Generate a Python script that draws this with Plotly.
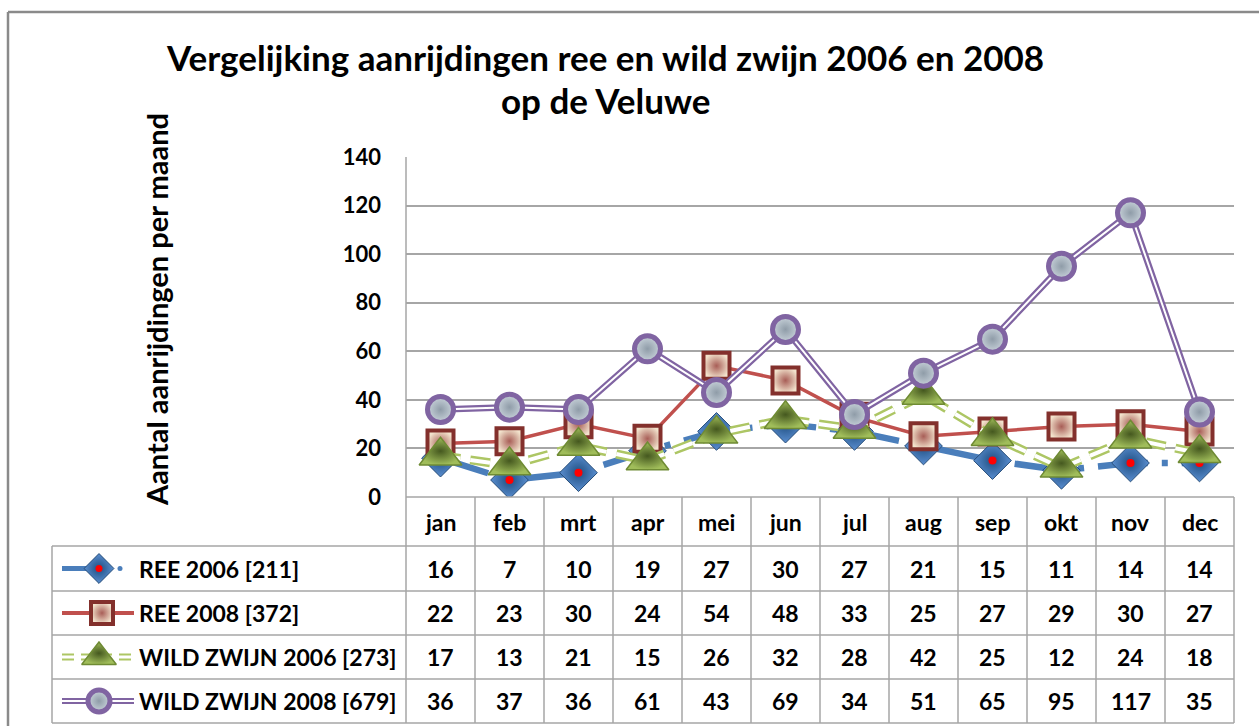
import plotly.graph_objects as go

# ---------------- data ----------------
months = ["jan", "feb", "mrt", "apr", "mei", "jun", "jul", "aug", "sep", "okt", "nov", "dec"]
ree_2006 = [16, 7, 10, 19, 27, 30, 27, 21, 15, 11, 14, 14]
ree_2008 = [22, 23, 30, 24, 54, 48, 33, 25, 27, 29, 30, 27]
wz_2006 = [17, 13, 21, 15, 26, 32, 28, 42, 25, 12, 24, 18]
wz_2008 = [36, 37, 36, 61, 43, 69, 34, 51, 65, 95, 117, 35]
series_names = ["REE 2006 [211]", "REE 2008 [372]", "WILD ZWIJN 2006 [273]", "WILD ZWIJN 2008 [679]"]
y_ticks = [0, 20, 40, 60, 80, 100, 120, 140]
title_lines = ["Vergelijking aanrijdingen ree en wild zwijn 2006 en 2008", "op de Veluwe"]
y_title = "Aantal aanrijdingen per maand"

# ---------------- layout geometry (pixels) ----------------
W, H = 1259, 726
PL, PR = 406, 1234          # plot left / right
PT, PB = 157, 497           # plot top (140) / bottom (0)
ROW_Y = [497, 546, 591, 635, 679, 723]
LEG_L = 52
FONT = "Lato"

def px(x):
    return x / W

def py(y):
    return 1 - y / H

xs = list(range(len(months)))
series = [ree_2006, ree_2008, wz_2006, wz_2008]

BLUE_M = dict(symbol="diamond", color="#5A8ED0", gradient=dict(type="radial", color="#1F4E80"),
              line=dict(color="#254C78", width=1))
RED_M = dict(symbol="square", color="#F2E2CC", gradient=dict(type="radial", color="#A85E57"),
             line=dict(color="#83302C", width=4))
GREEN_M = dict(symbol="triangle-up", color="#A0BD5A", gradient=dict(type="radial", color="#45581F"),
               line=dict(color="#6F8B34", width=1.5))
PURPLE_M = dict(symbol="circle", color="#C8D2DA", gradient=dict(type="radial", color="#8F9CA8"),
                line=dict(color="#8064A2", width=5))
GREEN_LINE = "#ADC664"

def skip(**kw):
    return go.Scatter(showlegend=False, hoverinfo="skip", **kw)

fig = go.Figure()

# --- REE 2006: blue dash-dot thick line, diamond with red centre
fig.add_trace(skip(x=xs, y=ree_2006, mode="lines", line=dict(color="#4A7EBB", width=6.5, dash="50px,14px,6px,14px")))
fig.add_trace(skip(x=xs, y=ree_2006, mode="markers", marker=dict(size=29, **BLUE_M)))
fig.add_trace(skip(x=xs, y=ree_2006, mode="markers", marker=dict(symbol="circle", size=8, color="#FF0000")))

# --- REE 2008: red solid line, bevelled square
fig.add_trace(skip(x=xs, y=ree_2008, mode="lines+markers", line=dict(color="#C0504D", width=3.5),
                   marker=dict(size=26, **RED_M)))

# --- WILD ZWIJN 2006: hollow green dashes, triangle
fig.add_trace(skip(x=xs, y=wz_2006, mode="lines", line=dict(color=GREEN_LINE, width=9, dash="20px,10px")))
fig.add_trace(skip(x=xs, y=wz_2006, mode="lines", line=dict(color="white", width=4, dash="20px,10px")))
fig.add_trace(skip(x=xs, y=wz_2006, mode="markers", marker=dict(size=37, **GREEN_M)))

# --- WILD ZWIJN 2008: purple double line, circle
fig.add_trace(skip(x=xs, y=wz_2008, mode="lines", line=dict(color="#8064A2", width=6.5)))
fig.add_trace(skip(x=xs, y=wz_2008, mode="lines", line=dict(color="white", width=2)))
fig.add_trace(skip(x=xs, y=wz_2008, mode="markers", marker=dict(size=26, **PURPLE_M)))

# ---------------- legend keys (pixel overlay axes) ----------------
row_centres = [(ROW_Y[i + 1] + ROW_Y[i + 2]) / 2 for i in range(4)]
kx0, kx1, kxm = 62, 134, 99
ov = dict(xaxis="x2", yaxis="y2")
# blue
yc = row_centres[0]
fig.add_trace(skip(x=[kx0, 100], y=[yc, yc], mode="lines", line=dict(color="#4A7EBB", width=5), **ov))
fig.add_trace(skip(x=[120], y=[yc], mode="markers", marker=dict(size=5, color="#4A7EBB"), **ov))
fig.add_trace(skip(x=[kxm], y=[yc], mode="markers", marker=dict(size=23, **BLUE_M), **ov))
fig.add_trace(skip(x=[kxm], y=[yc], mode="markers", marker=dict(size=7, color="#FF0000"), **ov))
# red
yc = row_centres[1]
fig.add_trace(skip(x=[kx0, kx1], y=[yc, yc], mode="lines", line=dict(color="#C0504D", width=4), **ov))
fig.add_trace(skip(x=[kxm + 3], y=[yc], mode="markers", marker=dict(size=22, **RED_M), **ov))
# green
yc = row_centres[2]
fig.add_trace(skip(x=[kx0, kx1], y=[yc, yc], mode="lines", line=dict(color=GREEN_LINE, width=7, dash="12px,7px"), **ov))
fig.add_trace(skip(x=[kx0, kx1], y=[yc, yc], mode="lines", line=dict(color="white", width=3, dash="12px,7px"), **ov))
fig.add_trace(skip(x=[kxm], y=[yc], mode="markers", marker=dict(size=30, **GREEN_M), **ov))
# purple
yc = row_centres[3]
fig.add_trace(skip(x=[kx0, kx1], y=[yc, yc], mode="lines", line=dict(color="#8064A2", width=6), **ov))
fig.add_trace(skip(x=[kx0, kx1], y=[yc, yc], mode="lines", line=dict(color="white", width=2), **ov))
fig.add_trace(skip(x=[kxm], y=[yc], mode="markers", marker=dict(size=22, **PURPLE_M), **ov))

# ---------------- shapes: borders & table grid ----------------
shapes = []
GRID = "#A6A6A6"
shapes.append(dict(type="line", xref="paper", yref="paper", x0=px(8), x1=1, y0=py(12), y1=py(12),
                   line=dict(color="#8A8A8A", width=2.5)))
shapes.append(dict(type="line", xref="paper", yref="paper", x0=px(8), x1=px(8), y0=py(12), y1=0,
                   line=dict(color="#8A8A8A", width=2.5)))
for k in range(len(months) + 1):
    xk = PL + (PR - PL) * k / len(months)
    y_top = PT if k == 0 else ROW_Y[0]
    shapes.append(dict(type="line", xref="paper", yref="paper", x0=px(xk), x1=px(xk), y0=py(y_top), y1=py(ROW_Y[-1]),
                       line=dict(color=GRID, width=1.5)))
shapes.append(dict(type="line", xref="paper", yref="paper", x0=px(LEG_L), x1=px(LEG_L), y0=py(ROW_Y[1]), y1=py(ROW_Y[-1]),
                   line=dict(color=GRID, width=1.5)))
for j, yv in enumerate(ROW_Y):
    x_left = PL if j == 0 else LEG_L
    shapes.append(dict(type="line", xref="paper", yref="paper", x0=px(x_left), x1=px(PR), y0=py(yv), y1=py(yv),
                       line=dict(color=GRID, width=1.5)))

# ---------------- annotations ----------------
ann = []
tfont = dict(family=FONT, size=23, color="black", weight="bold")
ann.append(dict(text=title_lines[0], x=px(605), y=py(57), xref="paper", yref="paper", showarrow=False,
                xanchor="center", yanchor="middle", font=dict(family=FONT, size=35, color="black", weight="bold")))
ann.append(dict(text=title_lines[1], x=px(605), y=py(100), xref="paper", yref="paper", showarrow=False,
                xanchor="center", yanchor="middle", font=dict(family=FONT, size=35, color="black", weight="bold")))
ann.append(dict(text=y_title, x=px(156), y=py(310), xref="paper", yref="paper", showarrow=False, textangle=-90,
                xanchor="center", yanchor="middle", font=dict(family=FONT, size=29, color="black", weight="bold")))
for i, m in enumerate(months):
    ann.append(dict(text=m, x=i, y=py((ROW_Y[0] + ROW_Y[1]) / 2), xref="x", yref="paper", showarrow=False,
                    xanchor="center", yanchor="middle", font=tfont))
for r, (name, vals) in enumerate(zip(series_names, series)):
    yc = py(row_centres[r])
    ann.append(dict(text=name, x=px(137), y=yc, xref="paper", yref="paper", showarrow=False,
                    xanchor="left", yanchor="middle", font=tfont))
    for i, v in enumerate(vals):
        ann.append(dict(text=str(v), x=i, y=yc, xref="x", yref="paper", showarrow=False,
                        xanchor="center", yanchor="middle", font=tfont))

fig.update_layout(
    width=W, height=H,
    margin=dict(l=0, r=0, t=0, b=0, pad=0, autoexpand=False),
    paper_bgcolor="white", plot_bgcolor="rgba(0,0,0,0)",
    showlegend=False,
    xaxis=dict(domain=[px(PL), px(PR)], range=[-0.5, len(months) - 0.5], showgrid=False, zeroline=False,
               showticklabels=False, ticks="", fixedrange=True, automargin=False),
    yaxis=dict(domain=[py(PB), py(PT)], range=[0, 140], tickvals=y_ticks, showgrid=True, gridcolor=GRID,
               gridwidth=2, zeroline=False, ticks="", ticklabelstandoff=24, automargin=False,
               tickfont=dict(family=FONT, size=22, color="black", weight="bold"), fixedrange=True),
    xaxis2=dict(domain=[0, 1], range=[0, W], visible=False, fixedrange=True, automargin=False),
    yaxis2=dict(domain=[0, 1], range=[H, 0], visible=False, fixedrange=True, automargin=False),
    shapes=shapes,
    annotations=ann,
)

fig.write_html("out.html", config={"displayModeBar": False},
               post_script="document.body.style.margin='0';document.body.style.overflow='hidden';")
